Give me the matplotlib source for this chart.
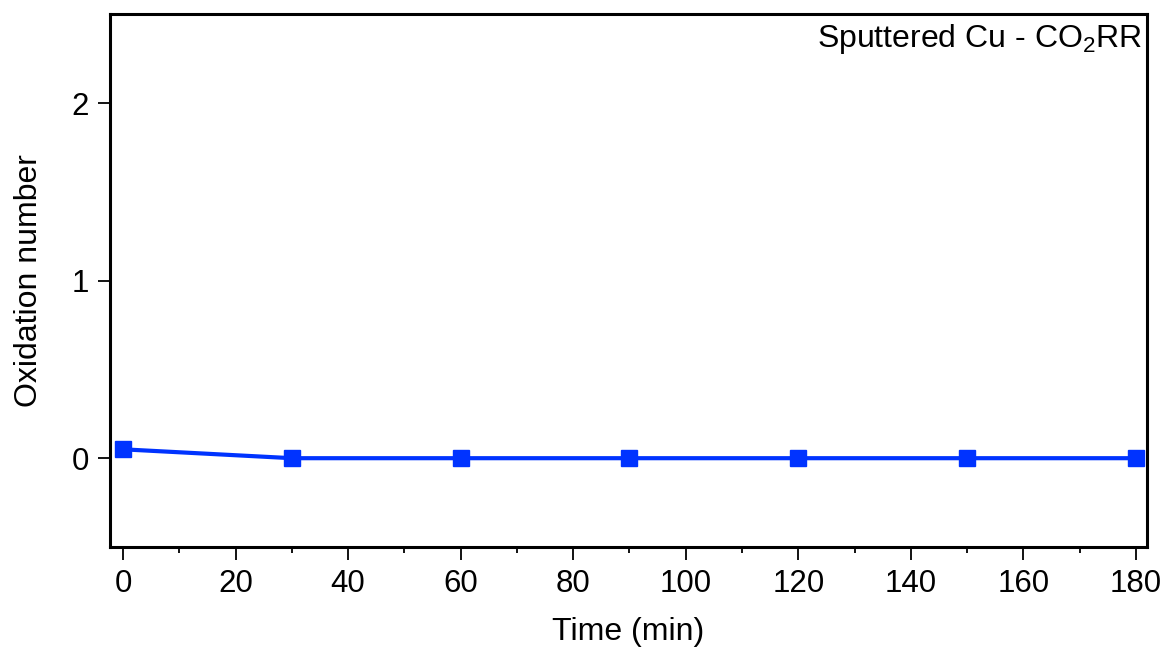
import numpy as np
import matplotlib.pyplot as plt

plt.rcParams['font.family'] = ['Liberation Sans', 'DejaVu Sans']

# data
time_min = [0, 30, 60, 90, 120, 150, 180]
ox_number = [0.05, 0.0, 0.0, 0.0, 0.0, 0.0, 0.0]

fig = plt.figure(figsize=(11.68, 6.5), dpi=100)
ax = fig.add_axes([0.0942, 0.1585, 0.888, 0.8195])

ax.plot(time_min, ox_number, color='#0033ff', lw=3, marker='s', ms=12)

ax.set_xlim(-2.3, 182)
ax.set_ylim(-0.5, 2.5)
ax.set_xticks(np.arange(0, 181, 20))
ax.set_xticks(np.arange(0, 181, 10), minor=True)
ax.set_yticks([0, 1, 2])

for s in ax.spines.values():
    s.set_linewidth(2.2)
ax.tick_params(axis='both', which='major', direction='out', labelsize=22.5, width=1.3)
ax.tick_params(axis='x', which='major', length=9.5, pad=6)
ax.tick_params(axis='x', which='minor', length=4.5, width=1.3)
ax.tick_params(axis='y', which='major', length=9, pad=6)

ax.set_xlabel('Time (min)', fontsize=23, labelpad=13)
ax.set_ylabel('Oxidation number', fontsize=23, labelpad=20)
ax.text(0.995, 0.985, r'Sputtered Cu - CO$_\mathregular{2}$RR', transform=ax.transAxes,
        ha='right', va='top', fontsize=23)

fig.savefig('out.png', dpi=100)
